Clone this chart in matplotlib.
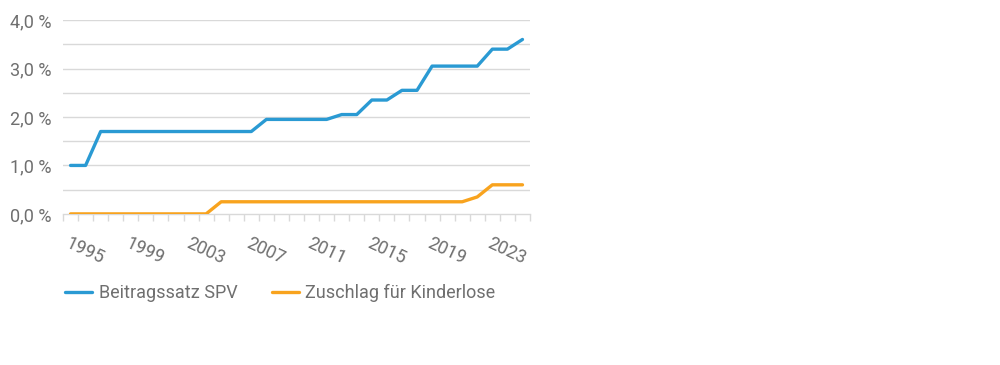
import matplotlib.pyplot as plt
import numpy as np

plt.rcParams['font.family'] = ['Roboto', 'DejaVu Sans']

# Daten
years = list(range(1995, 2026))
beitragssatz = [1.0, 1.0, 1.7, 1.7, 1.7, 1.7, 1.7, 1.7, 1.7, 1.7,
                1.7, 1.7, 1.7, 1.95, 1.95, 1.95, 1.95, 1.95, 2.05, 2.05,
                2.35, 2.35, 2.55, 2.55, 3.05, 3.05, 3.05, 3.05, 3.4, 3.4,
                3.6]
zuschlag = [0, 0, 0, 0, 0, 0, 0, 0, 0, 0,
            0.25, 0.25, 0.25, 0.25, 0.25, 0.25, 0.25, 0.25, 0.25, 0.25,
            0.25, 0.25, 0.25, 0.25, 0.25, 0.25, 0.25, 0.35, 0.6, 0.6,
            0.6]
y_ticks = [0, 1, 2, 3, 4]
y_labels = ['0,0 %', '1,0 %', '2,0 %', '3,0 %', '4,0 %']

blue = '#2A9AD3'
orange = '#F8A31E'
grey = '#6F6F6F'

fig = plt.figure(figsize=(10, 3.65), dpi=100)
ax = fig.add_axes([0.063, 0.414, 0.467, 0.531])

x = np.arange(len(years))
ax.plot(x, beitragssatz, color=blue, lw=2.4, label='Beitragssatz SPV',
        solid_capstyle='round', zorder=3)
ax.plot(x, zuschlag, color=orange, lw=2.4, label='Zuschlag für Kinderlose',
        solid_capstyle='round', zorder=3)

ax.set_xlim(-0.5, len(years) - 0.5)
ax.set_ylim(0, 4)

# Gitterlinien
for yv in np.arange(0.5, 4.01, 0.5):
    ax.axhline(yv, color='#D9D9D9', lw=1, zorder=1)

for s in ['top', 'right', 'left']:
    ax.spines[s].set_visible(False)
ax.spines['bottom'].set_color('#D9D9D9')
ax.spines['bottom'].set_linewidth(1)

ax.set_yticks(y_ticks)
ax.set_yticklabels(y_labels)
ax.tick_params(axis='y', length=0, pad=8, labelsize=13, labelcolor=grey)

ax.set_xticks(x[::4])
ax.set_xticklabels([str(y) for y in years[::4]])
ax.set_xticks(np.arange(-0.5, len(years), 1), minor=True)
ax.tick_params(axis='x', which='major', length=0, pad=15, labelsize=13,
               labelcolor=grey)
ax.tick_params(axis='x', which='minor', length=5, color='#D9D9D9', width=1)
for lab in ax.get_xticklabels():
    lab.set_rotation(-25)
    lab.set_ha('left')
    lab.set_va('top')
    lab.set_rotation_mode('anchor')

leg = fig.legend(loc='center left', bbox_to_anchor=(0.049, 0.197), ncol=2,
                 frameon=False, fontsize=13, handlelength=1.5,
                 handletextpad=0.35, columnspacing=1.9)
for t in leg.get_texts():
    t.set_color(grey)

fig.savefig('out.png', dpi=100)
